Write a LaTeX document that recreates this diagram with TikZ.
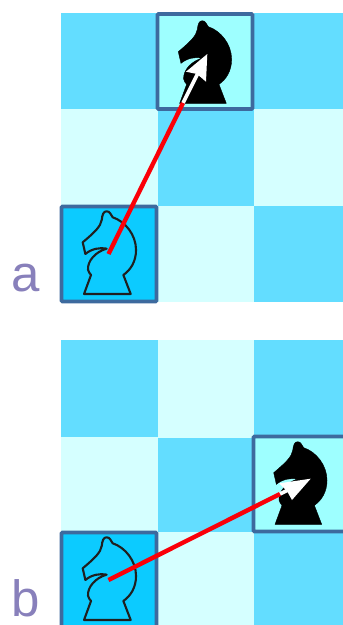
\documentclass[tikz,border=0pt]{standalone}
\usepackage{fontspec}
\setmainfont{Liberation Sans}
\definecolor{darksq}{HTML}{63DDFF}
\definecolor{lightsq}{HTML}{D5FFFF}
\definecolor{tosq}{HTML}{9EFFFF}
\definecolor{fromsq}{HTML}{0CCBFF}
\definecolor{edgeblue}{HTML}{3D6A9E}
\definecolor{labelc}{HTML}{8880BB}
\definecolor{redline}{HTML}{FA0008}
\newcommand{\KnightPath}[1]{%
  \draw[#1,line join=round,xscale=1/3,yscale=1/3]
    (-68,248) -- (72,248) -- (50,191)
    .. controls (72,176) and (88,150) .. (88,116)
    .. controls (88,70) and (55,30) .. (18,18)
    .. controls (12,10) and (10,0) .. (0,0)
    .. controls (-10,0) and (-13,10) .. (-15,26)
    .. controls (-18,45) and (-35,62) .. (-72,93)
    -- (-64,128)
    .. controls (-45,112) and (-20,108) .. (0,112)
    .. controls (-35,122) and (-58,150) .. (-56,175)
    .. controls (-56,182) and (-50,186) .. (-47,191)
    -- cycle;}
\tikzset{
  x=1pt,y=-1pt,
  sq/.style={inner sep=0pt,outer sep=0pt,anchor=north west},
  hl/.style={sq,draw=edgeblue,line width=3.8pt,rounded corners=1pt},
  lab/.style={anchor=base west,inner sep=0pt,text=labelc,font=\fontsize{51}{51}\selectfont},
  whitearrow/.style={draw=white,line width=3.6pt},
  redarrow/.style={draw=redline,line width=4.4pt},
  whitehead/.style={fill=white,draw=none},
  outlineknight/.style={draw=black!88,line width=2.1pt}
}
\begin{document}
\begin{tikzpicture}
\useasboundingbox (0,0) rectangle (343,625);
% board a
\fill[darksq] (61,13) rectangle (157.5,109);
\fill[darksq] (254,13) rectangle (343,109);
\fill[lightsq] (61,109) rectangle (157.5,205.5);
\fill[darksq] (157.5,109) rectangle (254,205.5);
\fill[lightsq] (254,109) rectangle (343,205.5);
\fill[lightsq] (157.5,205.5) rectangle (254,302);
\fill[darksq] (254,205.5) rectangle (343,302);
\node[hl,fill=tosq,minimum width=95pt,minimum height=95pt] (aTo) at (157.5,14) {};
\node[hl,fill=fromsq,minimum width=95pt,minimum height=95pt] (aFrom) at (61.5,206.5) {};
% board b
\fill[darksq] (61,340) rectangle (157.5,436.5);
\fill[lightsq] (157.5,340) rectangle (254,437.5);
\fill[darksq] (254,340) rectangle (343,436.5);
\fill[lightsq] (61,436.5) rectangle (157.5,532);
\fill[darksq] (157.5,437.5) rectangle (254,532);
\fill[lightsq] (157.5,532) rectangle (254,625);
\fill[darksq] (254,532) rectangle (343,625);
\node[hl,fill=tosq,minimum width=95pt,minimum height=95pt] (bTo) at (253.5,436.5) {};
\node[hl,fill=fromsq,minimum width=95pt,minimum height=95pt] (bFrom) at (61.5,532.5) {};
% knights
\begin{scope}[shift={(106.7,211.3)}]\KnightPath{outlineknight}\end{scope}
\begin{scope}[shift={(202.3,20.7)}]\KnightPath{fill=black}\end{scope}
\begin{scope}[shift={(106.7,537.3)}]\KnightPath{outlineknight}\end{scope}
\begin{scope}[shift={(297.7,441.7)}]\KnightPath{fill=black}\end{scope}
% arrows a
\coordinate (aStart) at (108.5,254);
\coordinate (aMid) at (183,103);
\coordinate (aNeck) at (198,73);
\coordinate (aTip) at (207.3,54);
\draw[whitearrow] (aMid) -- (aNeck);
\fill[whitehead] (aTip) -- (186,71.7) -- (197,74) -- (206,81.7) -- cycle;
\draw[redarrow] (aStart) -- (aMid);
% arrows b
\coordinate (bStart) at (108.5,580);
\coordinate (bMid) at (280,494);
\coordinate (bNeck) at (294,487);
\coordinate (bTip) at (310.7,478.7);
\draw[whitearrow] (bMid) -- (bNeck);
\fill[whitehead] (bTip) -- (279.3,483.3) -- (287,491) -- (292,500) -- cycle;
\draw[redarrow] (bStart) -- (bMid);
% labels
\node[lab] (la) at (11,291.7) {a};
\node[lab] (lb) at (11.5,616.7) {b};
\end{tikzpicture}
\end{document}
